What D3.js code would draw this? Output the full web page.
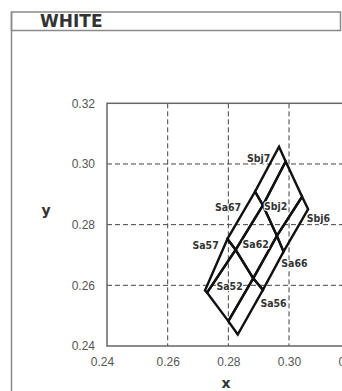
<!DOCTYPE html>
<html><head><meta charset="utf-8">
<script src="https://cdn.jsdelivr.net/npm/d3@7"></script>
<style>body{margin:0;background:#fff;}svg{display:block;}</style>
</head><body>
<script>
// ---- data ----
const title = "WHITE";
const xTicks = [0.24, 0.26, 0.28, 0.30, 0.32];
const yTicks = [0.24, 0.26, 0.28, 0.30, 0.32];
const gridVals = [0.26, 0.28, 0.30];
// vertex grid: rows along the long direction (bottom-left -> top-right), columns across
const vertX = [
  [0.2723, 0.2730, 0.2800, 0.2831],
  [0.2797, 0.2824, 0.2882, 0.2914],
  [0.2888, 0.2914, 0.2960, 0.2982],
  [0.2967, 0.2989, 0.3043, 0.3063]
];
const vertY = [
  [0.2583, 0.2576, 0.2482, 0.2438],
  [0.2753, 0.2717, 0.2623, 0.2585],
  [0.2909, 0.2864, 0.2763, 0.2711],
  [0.3057, 0.3008, 0.2892, 0.2851]
];
const binNames = [
  ["Sa57", "Sa52", "Sa56"],
  ["Sa67", "Sa62", "Sa66"],
  ["Sbj7", "Sbj2", "Sbj6"]
];
const labelX = [
  [0.2725, 0.2804, 0.2949],
  [0.2799, 0.2890, 0.3018],
  [0.2900, 0.2956, 0.3097]
];
const labelY = [
  [0.2731, 0.2598, 0.2542],
  [0.2858, 0.2735, 0.2674],
  [0.3020, 0.2862, 0.2822]
];

// ---- drawing ----
const W = 342, H = 391;
const svg = d3.select("body").append("svg").attr("width", W).attr("height", H);

// outer frame / header
svg.append("rect").attr("x", 11.5).attr("y", 12).attr("width", 329).attr("height", 18.5)
  .attr("fill", "none").attr("stroke", "#8a8a8a").attr("stroke-width", 1.5);
svg.append("line").attr("x1", 11.5).attr("x2", 11.5).attr("y1", 12).attr("y2", H)
  .attr("stroke", "#8a8a8a").attr("stroke-width", 1.5);
svg.append("text").attr("x", 40).attr("y", 27.3).text(title)
  .attr("font-family", "DejaVu Sans").attr("font-weight", "bold").attr("font-size", 17)
  .attr("fill", "#333");

const x = d3.scaleLinear().domain([0.24, 0.32]).range([107, 349.7]);
const y = d3.scaleLinear().domain([0.24, 0.32]).range([346, 103.3]);

// grid
const g = svg.append("g");
g.selectAll("line.gx").data(gridVals).join("line").attr("class", "gx")
  .attr("x1", d => x(d)).attr("x2", d => x(d)).attr("y1", y(0.32)).attr("y2", y(0.24))
  .attr("stroke", "#444").attr("stroke-width", 1).attr("stroke-dasharray", "5,3");
g.selectAll("line.gy").data(gridVals).join("line").attr("class", "gy")
  .attr("x1", x(0.24)).attr("x2", x(0.32)).attr("y1", d => y(d)).attr("y2", d => y(d))
  .attr("stroke", "#444").attr("stroke-width", 1).attr("stroke-dasharray", "5,3");

// plot box
svg.append("rect").attr("x", x(0.24)).attr("y", y(0.32))
  .attr("width", x(0.32) - x(0.24)).attr("height", y(0.24) - y(0.32))
  .attr("fill", "none").attr("stroke", "#666").attr("stroke-width", 1.5);

// axes
const xAxis = d3.axisBottom(x).tickValues(xTicks).tickSize(0).tickPadding(11)
  .tickFormat(d3.format(".2f"));
const yAxis = d3.axisLeft(y).tickValues(yTicks).tickSize(0).tickPadding(12)
  .tickFormat(d3.format(".2f"));
const gx = svg.append("g").attr("transform", `translate(0,${y(0.24)})`).call(xAxis);
const gy = svg.append("g").attr("transform", `translate(${x(0.24)},0)`).call(yAxis);
[gx, gy].forEach(a => {
  a.select(".domain").remove();
  a.selectAll("text").attr("font-family", "Liberation Sans, Arial, sans-serif")
    .attr("font-size", 12).attr("fill", "#555");
});
gx.selectAll(".tick text").filter(d => d === 0.24).attr("dx", -5);

svg.append("text").attr("x", 46).attr("y", 215).attr("text-anchor", "middle").text("y")
  .attr("font-family", "DejaVu Sans").attr("font-weight", "bold").attr("font-size", 14).attr("fill", "#333");
svg.append("text").attr("x", 226).attr("y", 388).attr("text-anchor", "middle").text("x")
  .attr("font-family", "DejaVu Sans").attr("font-weight", "bold").attr("font-size", 14).attr("fill", "#333");

// bins
const bins = [];
for (let a = 0; a < 3; a++) for (let b = 0; b < 3; b++) {
  bins.push({
    name: binNames[a][b],
    pts: [[vertX[a][b], vertY[a][b]], [vertX[a+1][b], vertY[a+1][b]],
          [vertX[a+1][b+1], vertY[a+1][b+1]], [vertX[a][b+1], vertY[a][b+1]]],
    lx: labelX[a][b], ly: labelY[a][b]
  });
}
const line = d3.line().x(d => x(d[0])).y(d => y(d[1])).curve(d3.curveLinearClosed);
svg.append("g").selectAll("path").data(bins).join("path")
  .attr("d", d => line(d.pts)).attr("fill", "none").attr("stroke", "#111")
  .attr("stroke-width", 2.4).attr("stroke-linejoin", "miter");

svg.append("g").selectAll("text").data(bins).join("text")
  .attr("x", d => x(d.lx)).attr("y", d => y(d.ly)).attr("dy", "0.36em")
  .attr("text-anchor", "middle").text(d => d.name)
  .attr("font-family", "DejaVu Sans Condensed, DejaVu Sans").attr("font-stretch", "condensed")
  .attr("font-weight", "bold").attr("font-size", 10.5).attr("fill", "#333")
  .attr("stroke", "#fff").attr("stroke-width", 2).attr("paint-order", "stroke");
</script>
</body></html>
